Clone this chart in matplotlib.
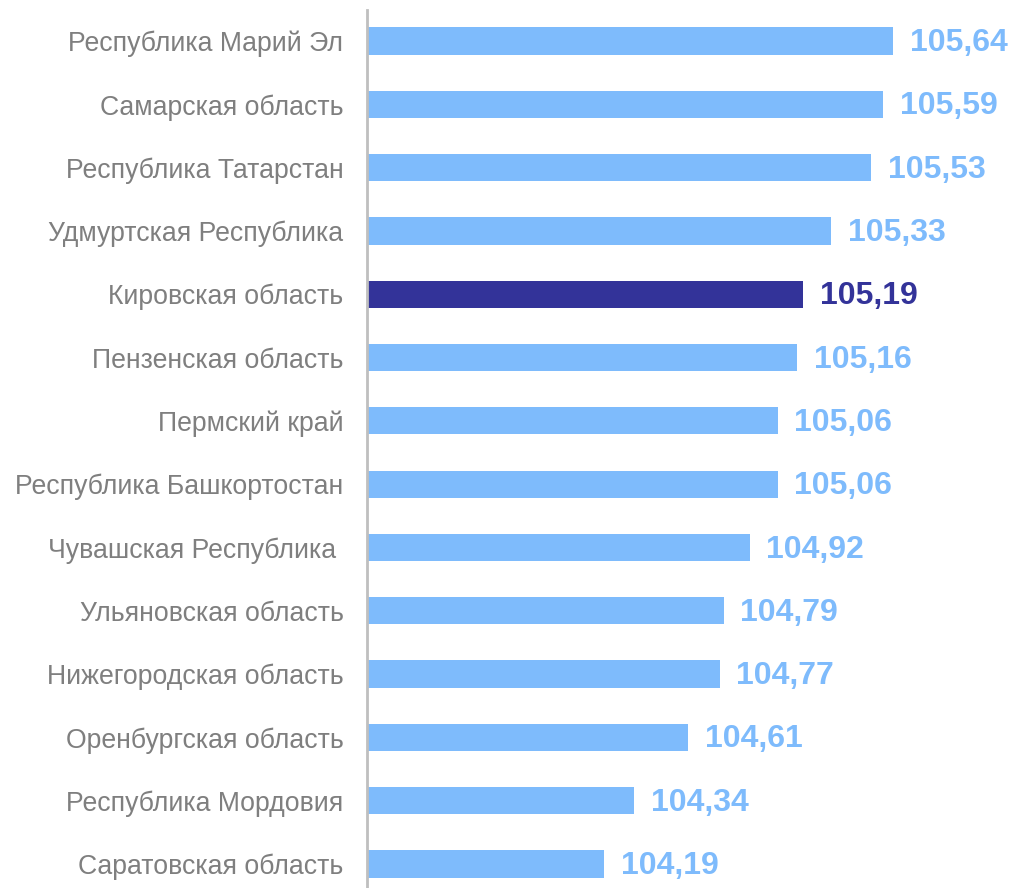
import matplotlib
matplotlib.use('Agg')
from matplotlib import pyplot as plt

regions = ['Республика Марий Эл', 'Самарская область', 'Республика Татарстан',
           'Удмуртская Республика', 'Кировская область', 'Пензенская область',
           'Пермский край', 'Республика Башкортостан', 'Чувашская Республика ',
           'Ульяновская область', 'Нижегородская область', 'Оренбургская область',
           'Республика Мордовия', 'Саратовская область']
values = [105.64, 105.59, 105.53, 105.33, 105.19, 105.16, 105.06,
          105.06, 104.92, 104.79, 104.77, 104.61, 104.34, 104.19]
highlight = 'Кировская область'

LIGHT = '#7EBBFC'
DARK = '#333399'

plt.rcParams['font.family'] = ['Liberation Sans', 'DejaVu Sans']

fig = plt.figure(figsize=(10.11, 8.88), dpi=100)
ax = fig.add_axes([367 / 1011, 0, 638 / 1011, 1 - 10 / 888])

base = 103.0
colors = [DARK if r == highlight else LIGHT for r in regions]
ypos = list(range(len(regions)))
ax.barh(ypos, [v - base for v in values], left=base, height=0.43, color=colors)

for y, v, c in zip(ypos, values, colors):
    ax.annotate(('%.2f' % v).replace('.', ','), xy=(v, y), xytext=(12, -1.5),
                textcoords='offset points', va='center', ha='left',
                fontsize=23, fontweight='bold', color=c)

ax.set_xlim(base, base + 638 / 199.3)
ax.set_ylim(13 + 24 / 63.3, -31 / 63.3)
ax.set_yticks(ypos)
ax.set_yticklabels(regions, fontsize=19.2, color='#7F7F7F')
ax.tick_params(axis='y', length=0, pad=17)
ax.set_xticks([])
for s in ['top', 'right', 'bottom']:
    ax.spines[s].set_visible(False)
ax.spines['left'].set_color('#BFBFBF')
ax.spines['left'].set_linewidth(2)

fig.savefig('out.png', dpi=100)
